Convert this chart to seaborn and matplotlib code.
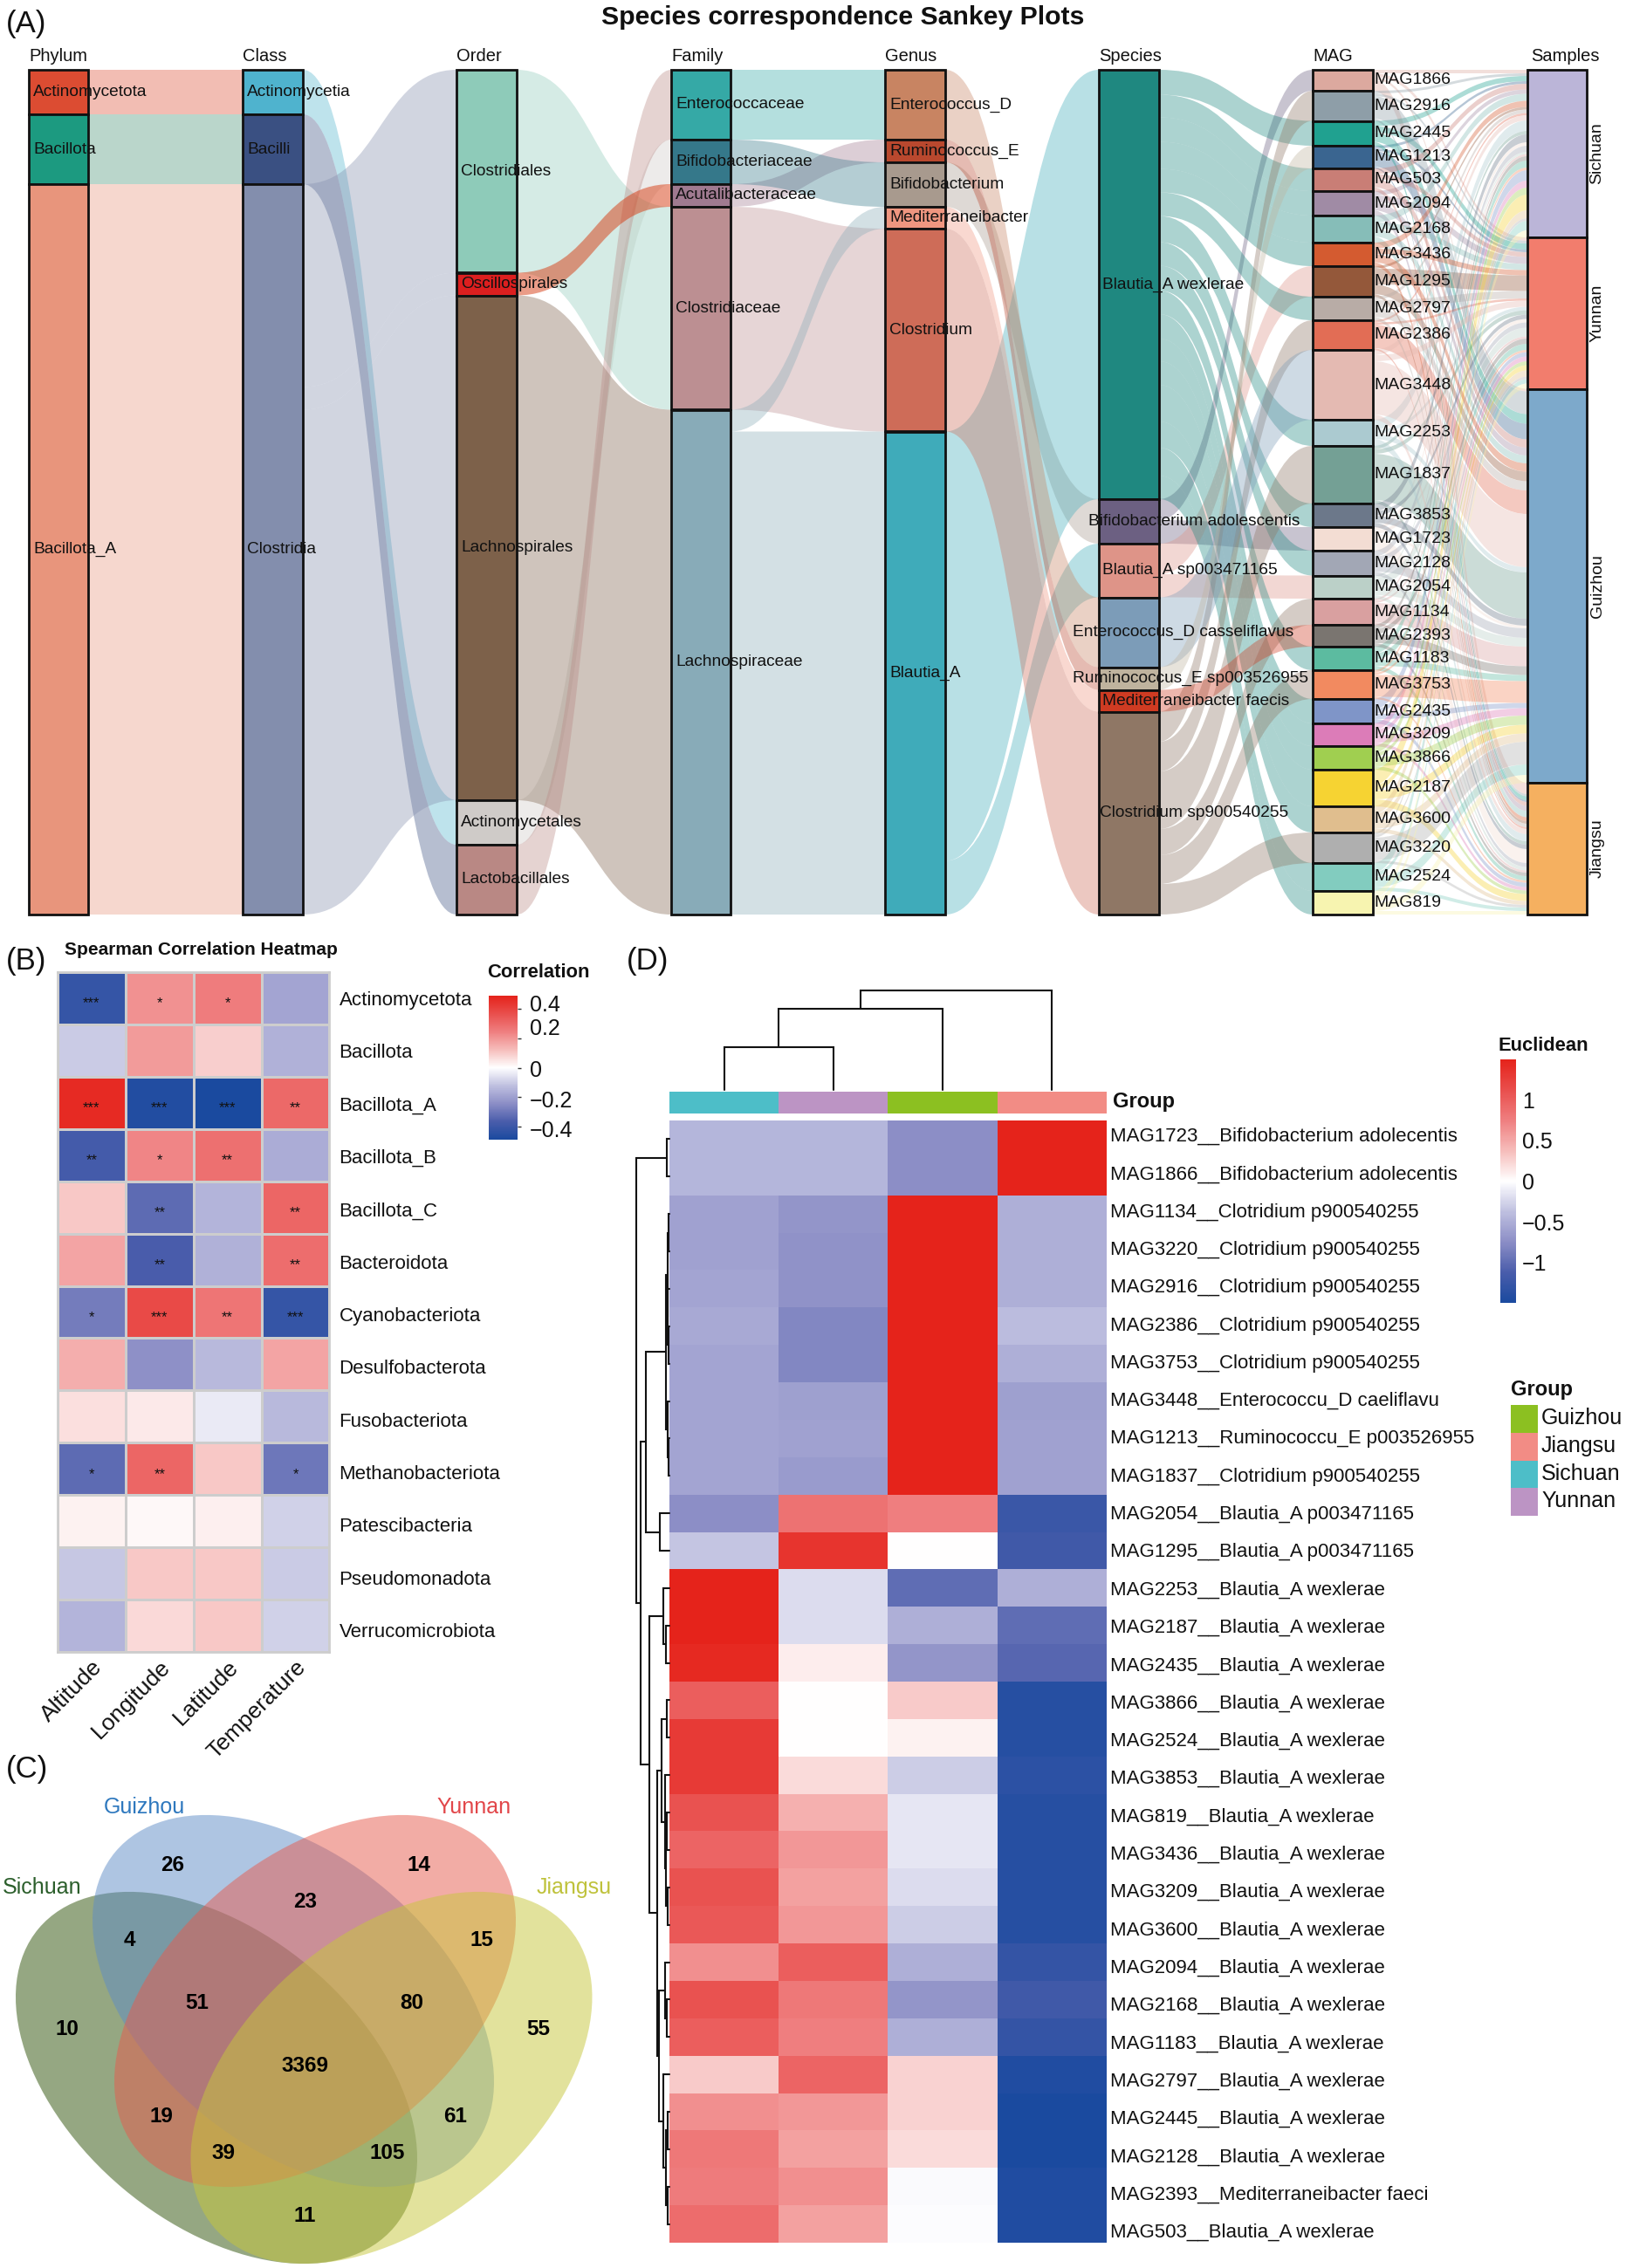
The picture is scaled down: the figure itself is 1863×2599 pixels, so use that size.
import numpy as np
import pandas as pd
import seaborn as sns
import matplotlib
matplotlib.use("Agg")
import matplotlib.pyplot as plt
from matplotlib.patches import PathPatch, Rectangle, Ellipse
from matplotlib.path import Path
from matplotlib.colors import LinearSegmentedColormap, ListedColormap

# ---------------- Panel A data ----------------
phylum_order = ["Actinomycetota", "Bacillota", "Bacillota_A"]
class_order = ["Actinomycetia", "Bacilli", "Clostridia"]
order_order = ["Clostridiales", "Oscillospirales", "Lachnospirales", "Actinomycetales", "Lactobacillales"]
family_order = ["Enterococcaceae", "Bifidobacteriaceae", "Acutalibacteraceae", "Clostridiaceae", "Lachnospiraceae"]
genus_order = ["Enterococcus_D", "Ruminococcus_E", "Bifidobacterium", "Mediterraneibacter", "Clostridium", "Blautia_A"]
species_order = ["Blautia_A wexlerae", "Bifidobacterium adolescentis", "Blautia_A sp003471165",
                 "Enterococcus_D casseliflavus", "Ruminococcus_E sp003526955",
                 "Mediterraneibacter faecis", "Clostridium sp900540255"]
sample_order = ["Sichuan", "Yunnan", "Guizhou", "Jiangsu"]

genus_of_species = ["Blautia_A", "Bifidobacterium", "Blautia_A", "Enterococcus_D", "Ruminococcus_E",
                    "Mediterraneibacter", "Clostridium"]
family_of_genus = ["Enterococcaceae", "Acutalibacteraceae", "Bifidobacteriaceae", "Lachnospiraceae",
                   "Clostridiaceae", "Lachnospiraceae"]
order_of_family = ["Lactobacillales", "Actinomycetales", "Oscillospirales", "Clostridiales", "Lachnospirales"]
class_of_order = ["Clostridia", "Clostridia", "Clostridia", "Actinomycetia", "Bacilli"]
phylum_of_class = ["Actinomycetota", "Bacillota", "Bacillota_A"]

mag_order = ["MAG1866", "MAG2916", "MAG2445", "MAG1213", "MAG503", "MAG2094", "MAG2168", "MAG3436", "MAG1295",
             "MAG2797", "MAG2386", "MAG3448", "MAG2253", "MAG1837", "MAG3853", "MAG1723", "MAG2128", "MAG2054",
             "MAG1134", "MAG2393", "MAG1183", "MAG3753", "MAG2435", "MAG3209", "MAG3866", "MAG2187", "MAG3600",
             "MAG3220", "MAG2524", "MAG819"]
mag_species = ["Bifidobacterium adolescentis", "Clostridium sp900540255", "Blautia_A wexlerae",
               "Ruminococcus_E sp003526955", "Blautia_A wexlerae", "Blautia_A wexlerae", "Blautia_A wexlerae",
               "Blautia_A wexlerae", "Blautia_A sp003471165", "Blautia_A wexlerae", "Clostridium sp900540255",
               "Enterococcus_D casseliflavus", "Blautia_A wexlerae", "Clostridium sp900540255", "Blautia_A wexlerae",
               "Bifidobacterium adolescentis", "Blautia_A wexlerae", "Blautia_A sp003471165",
               "Clostridium sp900540255", "Mediterraneibacter faecis", "Blautia_A wexlerae",
               "Clostridium sp900540255", "Blautia_A wexlerae", "Blautia_A wexlerae", "Blautia_A wexlerae",
               "Blautia_A wexlerae", "Blautia_A wexlerae", "Clostridium sp900540255", "Blautia_A wexlerae",
               "Blautia_A wexlerae"]
sichuan_vals = [4, 3, 6, 3, 6.5, 5, 8, 7, 3, 4, 2.5, 6, 12, 4, 9, 4, 7, 2.5, 2.5, 5, 8, 3, 12, 8, 8, 18, 9, 3, 11, 8]
yunnan_vals = [4, 3, 7, 3, 5.5, 8, 7, 6, 18, 8.5, 2.5, 7, 4, 5, 5, 4, 6, 10, 2.5, 6, 7, 2.5, 5, 5.5, 4.5, 6, 7, 3, 5, 6]
guizhou_vals = [3, 26, 11, 18, 9.5, 9, 9, 9.5, 11, 10.5, 27, 61, 6, 53, 8, 3, 11, 10, 22.5, 10, 7, 25, 6, 8.5, 10.5,
                10, 9.5, 26, 12, 9]
jiangsu_vals = [13, 2.5, 4.5, 2, 4.5, 6, 7, 4.5, 3, 4, 2, 6, 8, 4, 5, 16, 4.5, 4, 2.5, 4, 5, 2.5, 5, 4, 4, 8, 4.5, 3,
                4, 4]

phylum_colors = ["#DC4C32", "#1C9A80", "#E8957C"]
class_colors = ["#4FB3CE", "#3A5082", "#838EAD"]
order_colors = ["#8ECBB9", "#DC1F1F", "#7D614A", "#CFCBC8", "#B98884"]
family_colors = ["#35A9A6", "#35788A", "#A07A90", "#BC8F92", "#88ABB8"]
genus_colors = ["#C88462", "#B9482E", "#A89A8E", "#EF9680", "#CE6C58", "#3FABBA"]
species_colors = ["#1F8880", "#6C6082", "#DE9488", "#7C9CB8", "#BFB39E", "#CF3B22", "#8F7765"]
mag_colors = ["#DCA99F", "#8E9EA8", "#20A190", "#3A6590", "#C97E76", "#A08BA5", "#86BDB8", "#D45B30", "#94583A",
              "#B8ACA6", "#E26D55", "#E4BAB2", "#ABCAD0", "#74A095", "#6C788A", "#F3DDD3", "#A2A7B5", "#BBD0C8",
              "#D9A0A0", "#7A7570", "#5CBBA0", "#F28A60", "#7F95C8", "#DC7CB8", "#A0CF50", "#F6D332", "#E0BE8E",
              "#AFAFAF", "#82CCBF", "#F7F4B0"]
sample_colors = ["#BBB5D8", "#F27D6D", "#7DA9CB", "#F5B060"]
link_color_override = {"Oscillospirales": ("#D63A10", .5), "Bacillota": ("#459072", .37)}

# ---------------- Panel B data ----------------
b_rows = ["Actinomycetota", "Bacillota", "Bacillota_A", "Bacillota_B", "Bacillota_C", "Bacteroidota",
          "Cyanobacteriota", "Desulfobacterota", "Fusobacteriota", "Methanobacteriota", "Patescibacteria",
          "Pseudomonadota", "Verrucomicrobiota"]
b_cols = ["Altitude", "Longitude", "Latitude", "Temperature"]
b_altitude = [-.42, -.10, .47, -.38, .10, .17, -.29, .15, .06, -.33, .025, -.11, -.15]
b_longitude = [.21, .19, -.47, .23, -.33, -.37, .38, -.24, .04, .31, .015, .10, .07]
b_latitude = [.25, .09, -.49, .28, -.15, -.16, .27, -.14, -.04, .10, .03, .10, .10]
b_temperature = [-.19, -.16, .30, -.17, .31, .29, -.42, .17, -.14, -.30, -.09, -.10, -.09]
b_altitude_sig = ["***", "", "***", "**", "", "", "*", "", "", "*", "", "", ""]
b_longitude_sig = ["*", "", "***", "*", "**", "**", "***", "", "", "**", "", "", ""]
b_latitude_sig = ["*", "", "***", "**", "", "", "**", "", "", "", "", "", ""]
b_temperature_sig = ["", "", "**", "", "**", "**", "***", "", "", "*", "", "", ""]

# ---------------- Panel C data ----------------
venn_labels = ["26", "14", "23", "4", "15", "51", "80", "10", "55", "3369", "19", "61", "39", "105", "11"]
venn_sets = ["Sichuan", "Guizhou", "Yunnan", "Jiangsu"]
venn_fill = ["#2D5107", "#5F8DC7", "#E75B4D", "#C7C73B"]
venn_text = ["#2C5F2C", "#2E78BE", "#E2474A", "#BFC23C"]

# ---------------- Panel D data ----------------
d_rows = ["MAG1723__Bifidobacterium adolecentis", "MAG1866__Bifidobacterium adolecentis",
          "MAG1134__Clotridium p900540255", "MAG3220__Clotridium p900540255", "MAG2916__Clotridium p900540255",
          "MAG2386__Clotridium p900540255", "MAG3753__Clotridium p900540255", "MAG3448__Enterococcu_D caeliflavu",
          "MAG1213__Ruminococcu_E p003526955", "MAG1837__Clotridium p900540255", "MAG2054__Blautia_A p003471165",
          "MAG1295__Blautia_A p003471165", "MAG2253__Blautia_A wexlerae", "MAG2187__Blautia_A wexlerae",
          "MAG2435__Blautia_A wexlerae", "MAG3866__Blautia_A wexlerae", "MAG2524__Blautia_A wexlerae",
          "MAG3853__Blautia_A wexlerae", "MAG819__Blautia_A wexlerae", "MAG3436__Blautia_A wexlerae",
          "MAG3209__Blautia_A wexlerae", "MAG3600__Blautia_A wexlerae", "MAG2094__Blautia_A wexlerae",
          "MAG2168__Blautia_A wexlerae", "MAG1183__Blautia_A wexlerae", "MAG2797__Blautia_A wexlerae",
          "MAG2445__Blautia_A wexlerae", "MAG2128__Blautia_A wexlerae", "MAG2393__Mediterraneibacter faeci",
          "MAG503__Blautia_A wexlerae"]
d_sichuan = [-.45, -.45, -.6, -.6, -.58, -.55, -.58, -.58, -.58, -.58, -.75, -.35, 1.5, 1.5, 1.45, 1.0, 1.3, 1.3, 1.1,
             .95, 1.1, 1.05, .65, 1.1, 1.0, .3, .65, .8, .78, .9]
d_yunnan = [-.45, -.45, -.7, -.72, -.72, -.8, -.8, -.62, -.6, -.65, .85, 1.35, -.2, -.2, .1, 0, 0, .2, .45, .6, .55,
            .6, 1.0, .8, .75, .95, .6, .55, .65, .55]
d_guizhou = [-.75, -.75, 1.5, 1.5, 1.5, 1.5, 1.5, 1.5, 1.5, 1.5, .75, 0, -1.0, -.5, -.7, .3, .08, -.3, -.15, -.15, -.2,
             -.3, -.5, -.7, -.5, .25, .25, .2, -.03, -.02]
d_jiangsu = [1.5, 1.5, -.5, -.5, -.5, -.4, -.5, -.62, -.6, -.6, -1.25, -1.2, -.5, -1.0, -1.05, -1.4, -1.4, -1.35, -1.4,
             -1.4, -1.4, -1.4, -1.3, -1.2, -1.3, -1.45, -1.5, -1.5, -1.45, -1.45]
d_cols = ["Sichuan", "Yunnan", "Guizhou", "Jiangsu"]
d_group_names = ["Guizhou", "Jiangsu", "Sichuan", "Yunnan"]
d_group_colors = ["#8CC021", "#F28C85", "#4DBEC8", "#BC94C4"]
# dendrograms: (merge height, child, child); integers are leaves
col_tree = (114, (93, (49, 0, 1), 2), 3)
row_tree = (38, (3, 0, 1),
            (33,
             (27, (4, (2, (1.5, 2, 3), (2, 4, (1.5, 5, 6))), (2.5, 7, (1.5, 8, 9))), (11, 10, 11)),
             (23, (7, 12, (4, 13, 14)),
              (14,
               (9, (3, 15, 16), (5, 17, (4, (3, 18, 19), (2.5, 20, 21)))),
               (12, (5, 22, (3, 23, 24)), (7, 25, (4, (2.5, 26, 27), (2, 28, 29))))))))

# ---------------- set-up ----------------
sns.set_theme(style="white")
plt.rcParams["font.family"] = ["Liberation Sans", "DejaVu Sans"]
W, H = 1863, 2599
fig = plt.figure(figsize=(W / 100, H / 100), dpi=100, facecolor="white")


def ax_px(x0, y0, x1, y1, **kw):
    return fig.add_axes([x0 / W, 1 - y1 / H, (x1 - x0) / W, (y1 - y0) / H], **kw)


cmap = LinearSegmentedColormap.from_list(
    "rwb", [(0, "#1A4A9F"), (.125, "#4A5DAB"), (.25, "#8C8EC6"), (.375, "#BFC0E0"), (.5, "#FFFFFF"),
            (.625, "#F6BDBB"), (.75, "#EF7F80"), (.875, "#E94F4D"), (1, "#E5231B")], N=256)

overlay = ax_px(0, 0, W, H, zorder=10)
overlay.set_xlim(0, W)
overlay.set_ylim(H, 0)
overlay.axis("off")
overlay.patch.set_alpha(0)


def T(x, y, s, **kw):
    kw.setdefault("ha", "left")
    kw.setdefault("va", "center")
    kw.setdefault("color", "#111111")
    overlay.text(x, y, s, **kw)


# ---------------- Panel A: Sankey ----------------
tbl = pd.DataFrame({"MAG": mag_order, "Species": mag_species,
                    "Sichuan": sichuan_vals, "Yunnan": yunnan_vals, "Guizhou": guizhou_vals, "Jiangsu": jiangsu_vals})
tbl["Genus"] = tbl["Species"].map(dict(zip(species_order, genus_of_species)))
tbl["Family"] = tbl["Genus"].map(dict(zip(genus_order, family_of_genus)))
tbl["Order"] = tbl["Family"].map(dict(zip(family_order, order_of_family)))
tbl["Class"] = tbl["Order"].map(dict(zip(order_order, class_of_order)))
tbl["Phylum"] = tbl["Class"].map(dict(zip(class_order, phylum_of_class)))
long = tbl.melt(id_vars=["Phylum", "Class", "Order", "Family", "Genus", "Species", "MAG"],
                value_vars=sample_order, var_name="Samples", value_name="value")

levels = ["Phylum", "Class", "Order", "Family", "Genus", "Species", "MAG", "Samples"]
level_orders = [phylum_order, class_order, order_order, family_order, genus_order, species_order, mag_order, sample_order]
level_colors = [phylum_colors, class_colors, order_colors, family_colors, genus_colors, species_colors, mag_colors,
                sample_colors]
level_left = [33, 278, 523, 769, 1014, 1259, 1504, 1750]
level_width = [68, 69, 69, 68, 69, 69, 69, 68]
species_label_x = [1263, 1247, 1263, 1229, 1229, 1263, 1260]

sank = ax_px(0, 80, W, 1048)
sank.set_xlim(0, W)
total = long["value"].sum()
sank.set_ylim(total, 0)
sank.axis("off")

node_top = []
for lev, names in zip(levels, level_orders):
    sums = long.groupby(lev)["value"].sum().reindex(names)
    tops = np.concatenate([[0], np.cumsum(sums.values)[:-1]])
    node_top.append(dict(zip(names, zip(tops, sums.values))))

for i in range(len(levels) - 1):
    a, b = levels[i], levels[i + 1]
    oa, ob = level_orders[i], level_orders[i + 1]
    fl = long.groupby([a, b])["value"].sum().reset_index()
    fl["ra"] = fl[a].map({n: k for k, n in enumerate(oa)})
    fl["rb"] = fl[b].map({n: k for k, n in enumerate(ob)})
    out_y = {n: node_top[i][n][0] for n in oa}
    in_y = {n: node_top[i + 1][n][0] for n in ob}
    starts = {}
    for idx, r in fl.sort_values(["ra", "rb"]).iterrows():
        starts[idx] = out_y[r[a]]
        out_y[r[a]] += r["value"]
    ends = {}
    for idx, r in fl.sort_values(["rb", "ra"]).iterrows():
        ends[idx] = in_y[r[b]]
        in_y[r[b]] += r["value"]
    x0 = level_left[i] + level_width[i]
    x1 = level_left[i + 1]
    xm = (x0 + x1) / 2
    for idx, r in fl.iterrows():
        y0, y1, v = starts[idx], ends[idx], r["value"]
        verts = [(x0, y0), (xm, y0), (xm, y1), (x1, y1), (x1, y1 + v), (xm, y1 + v), (xm, y0 + v), (x0, y0 + v), (x0, y0)]
        codes = [Path.MOVETO, Path.CURVE4, Path.CURVE4, Path.CURVE4, Path.LINETO, Path.CURVE4, Path.CURVE4, Path.CURVE4,
                 Path.CLOSEPOLY]
        lc, la = link_color_override.get(r[a], (level_colors[i][r["ra"]], .37))
        sank.add_patch(PathPatch(Path(verts, codes), fc=lc, ec="none", alpha=la, zorder=1))

for i, (lev, names) in enumerate(zip(levels, level_orders)):
    for k, n in enumerate(names):
        top, h = node_top[i][n]
        sank.add_patch(Rectangle((level_left[i], top), level_width[i], h, fc=level_colors[i][k], ec="#111111", lw=2,
                                 zorder=3, clip_on=False))
        if lev == "Samples":
            sank.text(level_left[i] + level_width[i] + 12, top + h / 2, n, rotation=90, ha="center", va="center",
                      fontsize=14, color="#111111", zorder=5)
        elif lev == "MAG":
            sank.text(level_left[i] + level_width[i] + 1, top + h / 2, n, ha="left", va="center", fontsize=14,
                      color="#111111", zorder=5)
        else:
            lx = species_label_x[k] if lev == "Species" else level_left[i] + 5
            sank.text(lx, top + h / 2, n, ha="left", va="center", fontsize=13.8, color="#111111", zorder=5)
    T(level_left[i] + (0 if lev != "Samples" else 4), 64, lev, fontsize=14.5)

T(966, 20, "Species correspondence Sankey Plots", ha="center", fontsize=21.8, fontweight="bold")
for lab, x, y in [("(A)", 7, 28), ("(B)", 7, 1102), ("(C)", 7, 2027), ("(D)", 718, 1102)]:
    T(x, y, lab, fontsize=25)

# ---------------- Panel B: correlation heatmap ----------------
b_df = pd.DataFrame({"Altitude": b_altitude, "Longitude": b_longitude, "Latitude": b_latitude,
                     "Temperature": b_temperature}, index=b_rows)[b_cols]
b_sig = np.array([b_altitude_sig, b_longitude_sig, b_latitude_sig, b_temperature_sig]).T
axb = ax_px(66, 1114, 377.5, 1893)
cb = ax_px(560, 1141, 593, 1306)
sns.heatmap(b_df, ax=axb, cmap=cmap, vmin=-.49, vmax=.49, cbar_ax=cb, annot=b_sig, fmt="",
            annot_kws={"fontsize": 12, "color": "#111111"}, linewidths=2, linecolor="#CDCDCD")
for t in axb.texts:
    px, py = t.get_position()
    t.set_position((px, py + .1))
axb.yaxis.tick_right()
axb.tick_params(axis="both", length=0)
axb.set_yticks(np.linspace(.5, 12.58, len(b_rows)))
axb.set_yticklabels(b_rows, rotation=0)
axb.tick_params(axis="y", pad=8, labelsize=16, labelcolor="#111111")
axb.set_xticklabels(b_cols, rotation=45, ha="right", rotation_mode="anchor", fontsize=19, color="#111111")
axb.tick_params(axis="x", pad=4)
axb.set_xlabel("")
axb.set_ylabel("")
for s in axb.spines.values():
    s.set_visible(True)
    s.set_color("#CDCDCD")
    s.set_linewidth(2)
b_cbar_ticks = [-.4, -.2, 0, .2, .4]
b_cbar_labels = ["\u22120.4", "\u22120.2", "0", "0.2", "0.4"]
cb.yaxis.set_ticks(b_cbar_ticks)
cb.set_yticklabels([])
cb.tick_params(axis="y", length=3, width=1, right=True, color="#333333")
for lab, y in zip(b_cbar_labels, [1296, 1262, 1226.5, 1179, 1152]):
    T(607, y, lab, fontsize=18)
T(74, 1089, "Spearman Correlation Heatmap", fontsize=15, fontweight="bold")
T(558, 1115, "Correlation", fontsize=15.8, fontweight="bold")

# ---------------- Panel C: Venn ----------------
venn_cx = [248, 336, 361, 448.5]
venn_cy = [2381, 2293, 2293, 2381]
venn_angle = [40, 40, -40, -40]
for cx, cy, ang, col in zip(venn_cx, venn_cy, venn_angle, venn_fill):
    overlay.add_patch(Ellipse((cx, cy), 532, 332, angle=ang, fc=col, ec="none", alpha=.5))
venn_lx = [198, 480, 350, 148, 552, 226, 472, 77, 617, 349, 185, 522, 256, 444, 349]
venn_ly = [2137, 2137, 2180, 2223, 2223, 2295, 2295, 2325, 2325, 2367, 2425, 2425, 2468, 2468, 2540]
for s, x, y in zip(venn_labels, venn_lx, venn_ly):
    T(x, y, s, ha="center", fontsize=17.5, fontweight="bold", color="black")
for s, x, y, c in zip(venn_sets, [48, 165, 543, 658], [2163, 2071, 2071, 2163], venn_text):
    T(x, y, s, ha="center", fontsize=18, color=c)

# ---------------- Panel D: clustered heatmap ----------------
d_df = pd.DataFrame({"Sichuan": d_sichuan, "Yunnan": d_yunnan, "Guizhou": d_guizhou, "Jiangsu": d_jiangsu},
                    index=d_rows)[d_cols]
axd = ax_px(767, 1284, 1268, 2570)
cd = ax_px(1719, 1214, 1737, 1493)
sns.heatmap(d_df, ax=axd, cmap=cmap, vmin=-1.5, vmax=1.5, cbar_ax=cd, linewidths=0, rasterized=True)
axd.yaxis.tick_right()
axd.set_yticks(np.linspace(.373, 29.67, len(d_rows)))
axd.set_yticklabels(d_rows, rotation=0)
axd.tick_params(axis="y", length=0, pad=3, labelsize=16, labelcolor="#111111")
axd.set_xticks([])
axd.set_xlabel("")
axd.set_ylabel("")
cd.yaxis.set_ticks([-1, -.5, 0, .5, 1])
cd.set_yticklabels(["\u22121", "\u22120.5", "0", "0.5", "1"])
cd.tick_params(axis="y", length=0, pad=5, labelsize=18, labelcolor="#111111")
T(1717, 1198, "Euclidean", fontsize=15.8, fontweight="bold")

axg = ax_px(767, 1251, 1268, 1276)
group_idx = [[d_group_names.index(c) for c in d_cols]]
sns.heatmap(group_idx, ax=axg, cmap=ListedColormap(d_group_colors), vmin=-.5, vmax=3.5, cbar=False,
            xticklabels=False, yticklabels=False)
T(1275, 1262, "Group", fontsize=17, fontweight="bold")


def draw_tree(ax, node, horizontal):
    if isinstance(node, (int, np.integer)):
        return node + .5, 0
    h, l, r = node
    pl, hl = draw_tree(ax, l, horizontal)
    pr, hr = draw_tree(ax, r, horizontal)
    xs, ys = [pl, pl, pr, pr], [hl, h, h, hr]
    if horizontal:
        ax.plot(xs, ys, color="#111111", lw=1.5, clip_on=False, solid_joinstyle="miter")
    else:
        ax.plot(ys, xs, color="#111111", lw=1.5, clip_on=False, solid_joinstyle="miter")
    return (pl + pr) / 2, h


axct = ax_px(767, 1135, 1268, 1249)
axct.set_xlim(0, 4)
axct.set_ylim(0, 114)
axct.axis("off")
draw_tree(axct, col_tree, True)
axrt = ax_px(729, 1284, 767, 2570)
axrt.set_xlim(38, 0)
axrt.set_ylim(30, 0)
axrt.axis("off")
draw_tree(axrt, row_tree, False)

T(1731, 1593, "Group", fontsize=17, fontweight="bold")
leg_y = [1610, 1642, 1674, 1705]
for y, name, col in zip(leg_y, d_group_names, d_group_colors):
    overlay.add_patch(Rectangle((1731, y), 31, 32, fc=col, ec="none"))
    T(1766, y + 15, name, fontsize=18)

fig.savefig("out.png", dpi=100, facecolor="white")
